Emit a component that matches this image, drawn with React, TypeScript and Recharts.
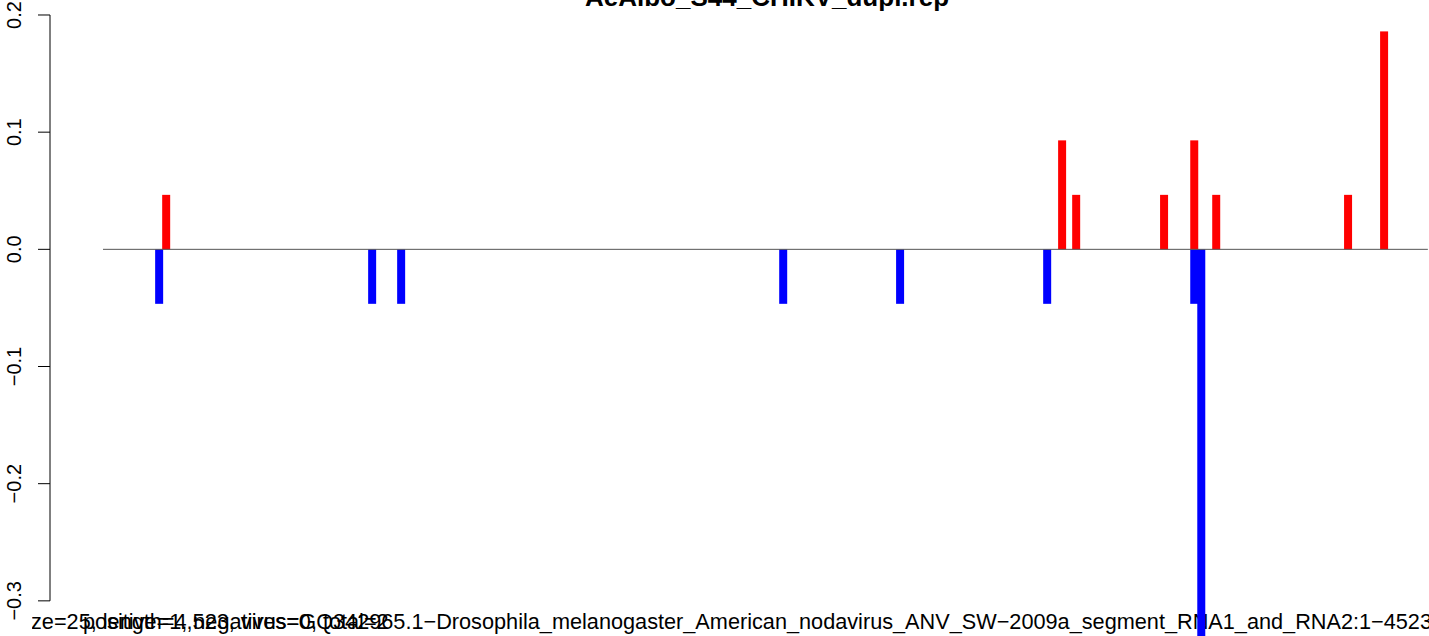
import React from 'react';
import { ComposedChart, Bar, XAxis, YAxis, ReferenceLine } from 'recharts';

const TITLE = 'AeAlbo_S44_CHIKV_dupl.rep';
const SUB_A = 'size=25, length=4,523, virus=GQ342965.1\u2212Drosophila_melanogaster_American_nodavirus_ANV_SW\u22122009a_segment_RNA1_and_RNA2:1\u22124523';
const SUB_B = 'positive=1, negatives=0, total=2';

const positions = [192, 216, 919, 1018, 2322, 2721, 3223, 3274, 3322, 3622, 3725, 3749, 3800, 4250, 4373];
const plusValues = [0, 0.0465, 0, 0, 0, 0, 0, 0.093, 0.0465, 0.0465, 0.093, 0, 0.0465, 0.0465, 0.186];
const minusValues = [-0.0465, 0, -0.0465, -0.0465, -0.0465, -0.0465, -0.0465, 0, 0, 0, -0.0465, -0.37, 0, 0, 0];
const yTicks = [-0.3, -0.2, -0.1, 0, 0.1, 0.2];
const genomeStart = 1;
const genomeEnd = 4523;

const data = positions.map((p, i) => ({ pos: p, plus: plusValues[i], minus: minusValues[i] }));

const FONT = '"Liberation Sans", Arial, Helvetica, sans-serif';
const W = 1429;
const H = 636;

const fmt = (v: number) => {
  const s = v.toFixed(1);
  return s.startsWith('-') ? '\u2212' + s.slice(1) : s;
};

const makeShape = (color: string) => (props: any) => {
  const { x, y, width, height } = props;
  if (x == null || y == null || !height) return <g />;
  const cx = x + width / 2;
  const top = Math.min(y, y + height);
  const h = Math.abs(height);
  return <rect x={cx - 4} y={top} width={8} height={h} fill={color} />;
};

const YTick = (props: any) => {
  const { y, payload } = props;
  return (
    <text
      transform={`translate(21, ${y}) rotate(-90)`}
      textAnchor="middle"
      fontFamily={FONT}
      fontSize={20}
      fill="#000"
    >
      {fmt(payload.value)}
    </text>
  );
};

export default function App() {
  return (
    <div style={{ position: 'absolute', left: 0, top: 0, width: W, height: H, background: '#fff' }}>
      <svg width={W} height={H} style={{ position: 'absolute', left: 0, top: 0 }}>
        <defs>
          <clipPath id="subclip">
            <rect x={32} y={560} width={W} height={80} />
          </clipPath>
        </defs>
        <text x={767} y={6} textAnchor="middle" fontFamily={FONT} fontWeight="bold" fontSize={26} fill="#000">
          {TITLE}
        </text>
        <g clipPath="url(#subclip)">
          <text x={1432} y={629} textAnchor="end" fontFamily={FONT} fontSize={21.7} fill="#000">
            {SUB_A}
          </text>
          <text x={83} y={629} textAnchor="start" fontFamily={FONT} fontSize={21.7} fill="#000">
            {SUB_B}
          </text>
        </g>
      </svg>
      <div style={{ position: 'absolute', left: 0, top: 0 }}>
        <ComposedChart
          width={W}
          height={H}
          data={data}
          stackOffset="sign"
          margin={{ top: 0, right: 0, bottom: 0, left: 0 }}
        >
          <XAxis type="number" dataKey="pos" domain={[-179.9, 4526.9]} allowDataOverflow hide />
          <YAxis
            type="number"
            width={50}
            domain={[-0.33, 0.2128]}
            allowDataOverflow
            ticks={yTicks}
            interval={0}
            tickSize={12}
            tickLine={{ stroke: '#000', strokeWidth: 1 }}
            axisLine={false}
            tick={<YTick />}
          />
          <ReferenceLine
            segment={[{ x: -179.9, y: -0.3 }, { x: -179.9, y: 0.2 }]}
            stroke="#000"
            strokeWidth={1}
            ifOverflow="visible"
          />
          <ReferenceLine
            segment={[{ x: genomeStart, y: 0 }, { x: genomeEnd, y: 0 }]}
            stroke="#555"
            strokeWidth={1}
            ifOverflow="visible"
          />
          <Bar dataKey="minus" stackId="s" fill="#0000ff" isAnimationActive={false} shape={makeShape('#0000ff')} />
          <Bar dataKey="plus" stackId="s" fill="#ff0000" isAnimationActive={false} shape={makeShape('#ff0000')} />
        </ComposedChart>
      </div>
    </div>
  );
}
